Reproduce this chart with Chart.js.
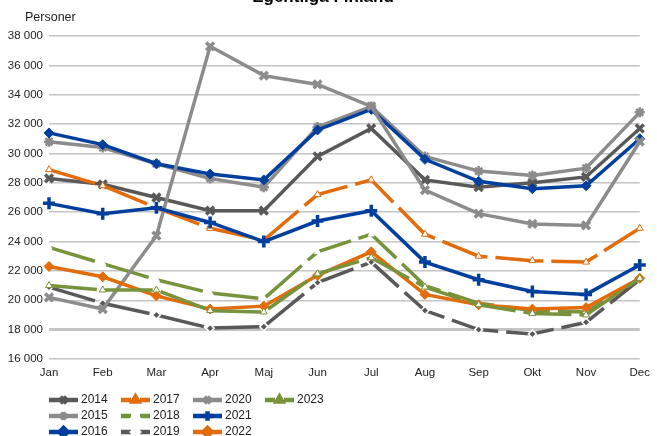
<!DOCTYPE html>
<html>
<head>
<meta charset="utf-8">
<script src="https://cdn.jsdelivr.net/npm/chart.js@4/dist/chart.umd.min.js"></script>
<style>
  body { margin: 0; background: #fff; }
  #wrap { position: relative; width: 657px; height: 436px; }
</style>
</head>
<body>
<div id="wrap"><canvas id="chart" width="657" height="436"></canvas></div>
<script>
// Kuukaudet ja vuosisarjat (luettu kuvasta)
const months = ['Jan', 'Feb', 'Mar', 'Apr', 'Maj', 'Jun', 'Jul', 'Aug', 'Sep', 'Okt', 'Nov', 'Dec'];
const y2014 = [28300, 27900, 27000, 26100, 26100, 29800, 31700, 28200, 27700, 28000, 28400, 31700];
const y2015 = [30800, 30400, 29300, 28300, 27700, 31800, 33200, 29800, 28800, 28500, 29000, 32800];
const y2016 = [31400, 30600, 29300, 28600, 28200, 31600, 33000, 29600, 28100, 27600, 27800, 31000];
const y2017 = [28900, 27800, 26300, 24900, 24100, 27200, 28200, 24500, 23000, 22700, 22600, 24900];
const y2018 = [23600, 22500, 21400, 20500, 20100, 23300, 24500, 21000, 19800, 19300, 19200, 21500];
const y2019 = [20900, 19800, 19000, 18100, 18200, 21200, 22600, 19300, 18000, 17700, 18500, 21400];
const y2020 = [20200, 19400, 24400, 37300, 35300, 34700, 33200, 27500, 25900, 25200, 25100, 30800];
const y2021 = [26600, 25900, 26300, 25300, 24000, 25400, 26100, 22600, 21400, 20600, 20400, 22400];
const y2022 = [22300, 21600, 20300, 19400, 19600, 21700, 23300, 20400, 19700, 19400, 19500, 21500];
const y2023 = [21000, 20700, 20700, 19300, 19200, 21800, 22900, 20900, 19700, 19100, 19000, 21500];
const yTicks = { min: 16000, max: 38000, step: 2000 };

const DARK = '#595959', GRAY = '#8c8c8c', BLUE = '#003f9e', ORANGE = '#e36c0a', GREEN = '#77933c';
const LONGDASH = [48, 8];

const series = [
  { label: '2014', data: y2014, color: DARK,   dash: [],       style: 'crossRot', r: 5.5, bw: 3.5, fill: DARK,   edge: DARK },
  { label: '2015', data: y2015, color: GRAY,   dash: [],       style: 'star',     r: 5,   bw: 2.5, fill: GRAY,   edge: GRAY },
  { label: '2016', data: y2016, color: BLUE,   dash: [],       style: 'rectRot',  r: 5,   bw: 1,   fill: BLUE,   edge: BLUE },
  { label: '2017', data: y2017, color: ORANGE, dash: LONGDASH, style: 'triangle', r: 4,   bw: 1,   fill: '#fff', edge: ORANGE },
  { label: '2018', data: y2018, color: GREEN,  dash: LONGDASH, style: 'triangle', r: 3.5, bw: 1,   fill: '#fff', edge: '#fff' },
  { label: '2019', data: y2019, color: DARK,   dash: LONGDASH, style: 'rectRot',  r: 4,   bw: 1.5, fill: DARK,   edge: '#fff' },
  { label: '2020', data: y2020, color: GRAY,   dash: [],       style: 'crossRot', r: 5.5, bw: 3.5, fill: GRAY,   edge: GRAY },
  { label: '2021', data: y2021, color: BLUE,   dash: [],       style: 'cross',    r: 6,   bw: 3.5, fill: BLUE,   edge: BLUE },
  { label: '2022', data: y2022, color: ORANGE, dash: [],       style: 'rectRot',  r: 5,   bw: 1,   fill: ORANGE, edge: ORANGE },
  { label: '2023', data: y2023, color: GREEN,  dash: LONGDASH, style: 'triangle', r: 4,   bw: 1,   fill: '#fff', edge: GREEN }
];

// legend in columns: positions of the sample line start
const legendCols = [49, 121, 193, 265];
const legendRows = [400, 416, 432];

function fmt(v) {
  return String(v).replace(/\B(?=(\d{3})+(?!\d))/g, ' ');
}

const datasets = series.map((s, i) => ({
  label: s.label,
  data: s.data,
  borderColor: s.color,
  borderWidth: 3.5,
  borderDash: s.dash,
  pointStyle: s.style,
  pointRadius: s.r,
  pointBorderWidth: s.bw,
  pointBackgroundColor: s.fill,
  pointBorderColor: s.edge,
  tension: 0,
  order: -i
}));

const extras = {
  id: 'extras',
  afterDraw(chart) {
    const ctx = chart.ctx;
    ctx.save();
    // title, cut at the top as in the original
    ctx.fillStyle = '#000';
    ctx.font = 'bold 17px "Liberation Sans", Arial, sans-serif';
    ctx.textAlign = 'center';
    ctx.textBaseline = 'alphabetic';
    ctx.fillText('Egentliga Finland', 323, 2);
    // unit label
    ctx.font = '12.5px "Liberation Sans", Arial, sans-serif';
    ctx.textAlign = 'left';
    ctx.textBaseline = 'middle';
    ctx.fillStyle = '#222';
    ctx.fillText('Personer', 25, 18);

    // legend, column-major
    series.forEach((s, i) => {
      const col = Math.floor(i / 3), row = i % 3;
      const x0 = legendCols[col], y = legendRows[row];
      ctx.save();
      ctx.strokeStyle = s.color;
      ctx.lineWidth = 4.5;
      ctx.setLineDash(s.dash.length ? [10, 9] : []);
      ctx.beginPath();
      ctx.moveTo(x0, y);
      ctx.lineTo(x0 + 29, y);
      ctx.stroke();
      ctx.setLineDash([]);
      ctx.fillStyle = s.fill;
      ctx.strokeStyle = s.edge;
      Chart.helpers.drawPoint(ctx, { pointStyle: s.style, rotation: 0, radius: s.r * 0.8, borderWidth: s.bw }, x0 + 14.5, y);
      ctx.restore();
      ctx.fillStyle = '#222';
      ctx.font = '12px "Liberation Sans", Arial, sans-serif';
      ctx.textAlign = 'left';
      ctx.textBaseline = 'middle';
      ctx.fillText(s.label, x0 + 32, y);
    });
    ctx.restore();
  }
};

new Chart(document.getElementById('chart'), {
  type: 'line',
  data: { labels: months, datasets: datasets },
  plugins: [extras],
  options: {
    responsive: false,
    animation: false,
    layout: { padding: { left: 0, top: 36, right: 12, bottom: 0 } },
    plugins: { legend: { display: false }, title: { display: false }, tooltip: { enabled: false } },
    scales: {
      x: {
        offset: false,
        grid: { display: false, drawTicks: false },
        border: { display: false },
        ticks: { color: '#222', padding: 7, font: { family: '"Liberation Sans", Arial, sans-serif', size: 11.5 } },
        afterFit(scale) { scale.height = 77; }
      },
      y: {
        min: yTicks.min,
        max: yTicks.max,
        grid: {
          color: '#c4c4c4',
          lineWidth: c => (c.tick && c.tick.value === 18000 ? 3 : 1.5),
          drawTicks: false
        },
        border: { display: false },
        ticks: {
          stepSize: yTicks.step,
          color: '#222',
          padding: 6,
          font: { family: '"Liberation Sans", Arial, sans-serif', size: 11.5 },
          callback: v => fmt(v)
        },
        afterFit(scale) { scale.width = 49; }
      }
    }
  }
});
</script>
</body>
</html>
